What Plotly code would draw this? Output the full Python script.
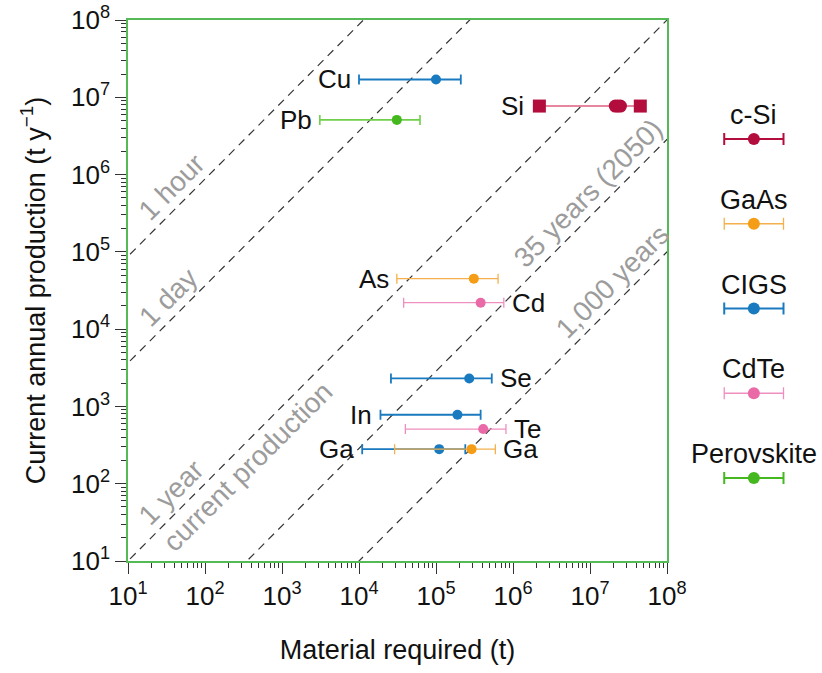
import math
import plotly.graph_objects as go

# ---------------- data ----------------
elements = ["Cu", "Pb", "As", "Cd", "Se", "In", "Te", "Ga", "Ga"]
technology = ["CIGS", "Perovskite", "GaAs", "CdTe", "CIGS", "CIGS", "CdTe", "CIGS", "GaAs"]
production = [1.7e7, 5.1e6, 4.5e4, 2.2e4, 2.3e3, 780, 510, 280, 280]       # t / y
required_mid = [1.0e5, 3.1e4, 3.1e5, 3.8e5, 2.7e5, 1.9e5, 4.1e5, 1.1e5, 2.9e5]  # t
required_low = [1.0e4, 3.1e3, 3.1e4, 3.8e4, 2.6e4, 1.9e4, 4.0e4, 1.1e4, 2.9e4]
required_high = [2.1e5, 6.2e4, 6.4e5, 7.6e5, 5.3e5, 3.8e5, 8.1e5, 2.4e5, 5.9e5]
label_side = ["left", "left", "left", "right", "right", "left", "right", "left", "right"]

si_production = 7.7e6
si_required_mid = 2.3e7
si_required_low = 2.2e6
si_required_high = 4.5e7

# reference time lines (years)
line_times = [1 / 8760, 1 / 365, 1, 35, 1000]
line_labels = ["1 hour", "1 day", "1 year", "35 years (2050)", "1,000 years"]
line_label_logx = [1.56, 1.52, 1.56, 6.97, 7.29]

legend_names = ["c-Si", "GaAs", "CIGS", "CdTe", "Perovskite"]

x_tick_exps = [1, 2, 3, 4, 5, 6, 7, 8]
y_tick_exps = [1, 2, 3, 4, 5, 6, 7, 8]

# ---------------- styles ----------------
FONT = "Liberation Sans, Arial, sans-serif"
tech_color = {"c-Si": "#b20d3c", "GaAs": "#f59d16", "CIGS": "#1a7abf",
              "CdTe": "#ea69a7", "Perovskite": "#45b820"}
tech_bar_color = {"c-Si": "#b20d3c", "GaAs": "#f4b04c", "CIGS": "#1a7abf",
                  "CdTe": "#ef8fbf", "Perovskite": "#6fcf4a"}
tech_bar_width = {"c-Si": 2, "GaAs": 1.3, "CIGS": 1.8, "CdTe": 1.3, "Perovskite": 1.6}
FRAME = "#55b955"
GREY = "#9c9c9c"
LABEL_SIZE = 26

fig = go.Figure()

# dashed reference lines
for t in line_times:
    xs = [1e0, 1e9]
    fig.add_trace(go.Scatter(x=xs, y=[v / t for v in xs], mode="lines",
                             line=dict(color="#333333", width=1.2, dash="8px,6px"),
                             hoverinfo="skip", showlegend=False))

# element error bars
for el, tech, p, m, lo, hi in zip(elements, technology, production,
                                  required_mid, required_low, required_high):
    fig.add_trace(go.Scatter(
        x=[m], y=[p], mode="markers",
        marker=dict(color=tech_color[tech], size=10),
        error_x=dict(type="data", symmetric=False, array=[hi - m], arrayminus=[m - lo],
                     color=tech_bar_color[tech], thickness=tech_bar_width[tech], width=5),
        showlegend=False))

# Si
fig.add_trace(go.Scatter(x=[si_required_low, si_required_high], y=[si_production] * 2,
                         mode="lines+markers",
                         line=dict(color="#de5f7f", width=1.5),
                         marker=dict(symbol="square", size=13, color=tech_color["c-Si"]),
                         showlegend=False))
fig.add_trace(go.Scatter(x=[si_required_mid / 1.08, si_required_mid, si_required_mid * 1.08],
                         y=[si_production] * 3, mode="markers",
                         marker=dict(size=13, color=tech_color["c-Si"]),
                         showlegend=False))

annotations = []
# element labels
for el, p, lo, hi, side in zip(elements, production, required_low, required_high, label_side):
    if side == "left":
        annotations.append(dict(x=math.log10(lo), y=math.log10(p), text=el, showarrow=False,
                                xanchor="right", yanchor="middle", xshift=-6,
                                font=dict(family=FONT, size=LABEL_SIZE, color="#111111")))
    else:
        annotations.append(dict(x=math.log10(hi), y=math.log10(p), text=el, showarrow=False,
                                xanchor="left", yanchor="middle", xshift=6,
                                font=dict(family=FONT, size=LABEL_SIZE, color="#111111")))
annotations.append(dict(x=math.log10(si_required_low), y=math.log10(si_production), text="Si",
                        showarrow=False, xanchor="right", yanchor="middle", xshift=-13,
                        font=dict(family=FONT, size=LABEL_SIZE, color="#111111")))

# reference line labels (offset above the line)
for t, lab, lx in zip(line_times, line_labels, line_label_logx):
    annotations.append(dict(x=lx, y=lx - math.log10(t) + 0.33, text=lab, showarrow=False,
                            textangle=-45, xanchor="center", yanchor="middle",
                            font=dict(family=FONT, size=28, color=GREY)))
annotations.append(dict(x=2.56, y=2.56 - 0.34, text="current production", showarrow=False,
                        textangle=-45, xanchor="center", yanchor="middle",
                        font=dict(family=FONT, size=28, color=GREY)))

# legend (drawn on a separate small axis)
for i, name in enumerate(legend_names):
    yv = len(legend_names) - 1 - i
    fig.add_trace(go.Scatter(
        x=[0], y=[yv], mode="markers", xaxis="x2", yaxis="y2",
        marker=dict(color=tech_color[name], size=12),
        error_x=dict(type="data", symmetric=True, array=[1],
                     color=tech_bar_color[name] if name in ("GaAs", "CdTe") else tech_color[name],
                     thickness=2 if name not in ("GaAs", "CdTe") else 1.3, width=6),
        showlegend=False))
    annotations.append(dict(x=0, y=yv, xref="x2", yref="y2", text=name, showarrow=False,
                            xanchor="center", yanchor="bottom", yshift=7,
                            font=dict(family=FONT, size=27, color="#111111")))

minor_vals = [k * 10 ** n for n in range(1, 8) for k in range(2, 10)]

axis_common = dict(type="log", showgrid=False, zeroline=False, showline=True,
                   linecolor=FRAME, linewidth=1.5, mirror=True, automargin=False,
                   ticks="outside", ticklen=11, tickwidth=1, tickcolor="#333333",
                   tickfont=dict(family=FONT, size=26, color="#111111"),
                   minor=dict(ticks="outside", ticklen=5, tickwidth=1, tickcolor="#333333",
                              tickvals=minor_vals, showgrid=False))

fig.update_layout(
    width=822, height=673,
    margin=dict(l=128, r=10, t=20, b=112),
    plot_bgcolor="white", paper_bgcolor="white",
    font=dict(family=FONT, color="#111111"),
    xaxis=dict(**axis_common, range=[1, 8], domain=[0, 539 / 684],
               tickvals=[10 ** e for e in x_tick_exps],
               ticktext=[f"10<sup>{e}</sup>" for e in x_tick_exps],
               title=dict(text="Material required (t)", font=dict(family=FONT, size=27),
                          standoff=30)),
    yaxis=dict(**axis_common, range=[1, 8], domain=[0, 1],
               tickvals=[10 ** e for e in y_tick_exps],
               ticktext=[f"10<sup>{e}</sup>" for e in y_tick_exps],
               title=dict(text="Current annual production (t y<sup>−1</sup>)",
                          font=dict(family=FONT, size=27), standoff=18)),
    xaxis2=dict(domain=[0.85, 0.98], range=[-1.5, 1.5], visible=False, anchor="y2"),
    yaxis2=dict(domain=[0, 1], range=[-0.979, 5.404], visible=False, anchor="x2"),
    annotations=annotations,
    showlegend=False,
)

fig.write_html("out.html")
